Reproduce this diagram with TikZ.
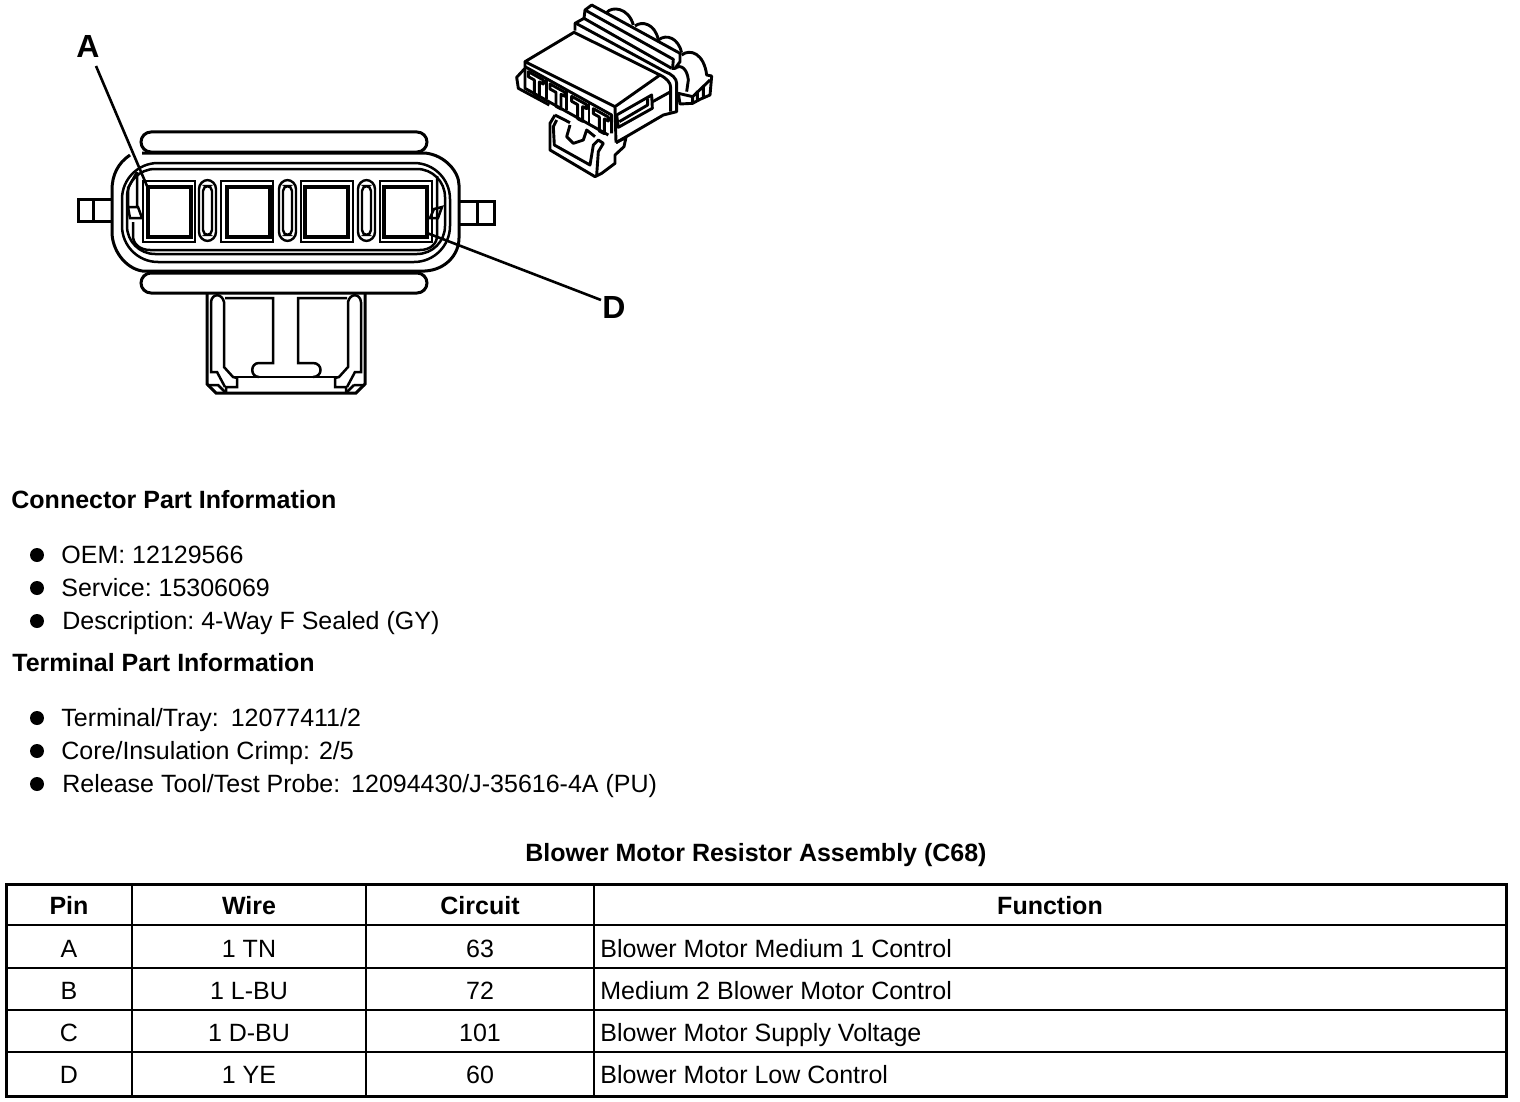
\documentclass[tikz,border=0pt]{standalone}
\usepackage{fontspec}
\setmainfont{Liberation Sans}
\tikzset{
 txt/.style={anchor=base west,inner sep=0pt,font=\fontsize{12.5}{15}\selectfont},
 head/.style={anchor=base west,inner sep=0pt,font=\fontsize{12.5}{15}\selectfont\bfseries},
 cell/.style={anchor=base,inner sep=0pt,font=\fontsize{12.5}{15}\selectfont},
 hcell/.style={anchor=base,inner sep=0pt,font=\fontsize{12.5}{15}\selectfont\bfseries},
 callout/.style={anchor=base,inner sep=0pt,font=\fontsize{16}{18}\selectfont\bfseries},
 bul/.style={circle,fill=black,inner sep=0pt,minimum size=7pt},
 part/.style={line width=1.5pt,line join=miter},
 thin part/.style={line width=1.25pt},
 iso/.style={line width=1.45pt,line join=round},
 leader/.style={line width=1.3pt},
 grid/.style={line width=.75pt},
 midrule/.style={line width=1.1pt},
 frame/.style={line width=1.5pt},
}
\begin{document}
\frenchspacing
\begin{tikzpicture}[x=0.5pt,y=-0.5pt]
\useasboundingbox (0,0) rectangle (1520,1102);
% end-view connector: body
\draw[part] (130,155) .. controls (118,163) and (112,175) .. (112,190) -- (112,232) .. controls (112,250) and (125,268) .. (142,271);
\draw[part] (142,153) -- (425,153) .. controls (445,155) and (459,172) .. (459,185) -- (459,238);
\draw[part] (459,238) .. controls (459,255) and (445,270) .. (425,271) -- (142,271);
\draw[part,rounded corners=5pt] (141,132) rectangle (427,152);
\draw[part,rounded corners=5pt] (141,273) rectangle (427,293);
\draw[thin part,rounded corners=18pt] (122,163) rectangle (450,262);
\draw[thin part,rounded corners=14pt] (127,169) rectangle (445,254);
\draw[thin part] (150,250) -- (420,250) (420,250) .. controls (430,250) and (437,244) .. (437,236) -- (437,176);
\draw[thin part] (150,250) .. controls (140,250) and (133,244) .. (133,236) -- (133,222);
% side pegs
\draw[part] (112,199) -- (78,199) -- (78,221) -- (112,221) (93,199) -- (93,221);
\draw[part] (459,201) -- (494,201) -- (494,224) -- (459,224) (477,201) -- (477,224);
% latching tabs inside the body
\draw[thin part] (137,172) -- (128,188) -- (128,207) (137,172) -- (137,207) (128,207) -- (138,207) -- (142,218) -- (130,218) -- cycle;
\draw[thin part] (434,209) -- (442,207) -- (438,218) -- (430,218) -- cycle;
% cavities
\foreach \ox/\ix in {143/148,221/227,301/305,380/384}{
 \draw[line width=1.2pt] (\ox,181) rectangle ++(52,61);
 \draw[line width=1.7pt] (\ix,187) rectangle ++(43,50);
}
\foreach \sx in {199,279,358}{
 \draw[line width=1.2pt,rounded corners=4.5pt] (\sx,180) rectangle ++(17,61);
 \draw[line width=1.2pt,rounded corners=2.5pt] (\sx+4,186) rectangle ++(9,49);
}
% lower latch
\draw[part] (207,293) -- (207,384) -- (216,393) -- (356,393) -- (365,384) -- (365,293);
\draw[thin part] (225,298) -- (273,298) -- (273,363) -- (259,363) .. controls (250,363) and (250,377) .. (259,377);
\draw[thin part] (347,298) -- (298,298) -- (298,363) -- (313,363) .. controls (323,363) and (323,377) .. (313,377);
\draw[thin part] (233,377) -- (339,377);
\draw[thin part] (211,302) .. controls (212,293) and (222,293) .. (224,302) -- (224,367) -- (233,377) -- (237,378) -- (237,387) -- (226,387) -- (226,393);
\draw[thin part] (211,302) -- (211,372) -- (217,372) -- (225,387);
\draw[thin part] (361,302) .. controls (360,293) and (350,293) .. (348,302) -- (348,367) -- (339,377) -- (335,378) -- (335,387) -- (346,387) -- (346,393);
\draw[thin part] (361,302) -- (361,372) -- (355,372) -- (347,387);
\draw[thin part] (207,385) -- (218,385) -- (226,393) (354,385) -- (365,385) (354,385) -- (346,393);
% leaders and labels
\node[callout] (A) at (88,58) {A};
\node[callout] (D) at (614,318) {D};
\coordinate (pinA) at (147,186);
\coordinate (pinD) at (427,233);
\coordinate (Aend) at (96,66);
\coordinate (Dend) at (601,300);
\draw[leader] (Aend) -- (pinA);
\draw[leader] (Dend) -- (pinD);
% isometric connector
\begin{scope}[shift={(500,0)},x=0.16667pt,y=-0.16667pt]
% bumps behind
\draw[iso] (320,38) .. controls (335,18) and (385,22) .. (400,75);
\draw[iso] (405,78) .. controls (425,62) and (465,70) .. (475,120);
\draw[iso] (475,120) .. controls (500,100) and (535,115) .. (545,158);
\draw[iso] (545,165) .. controls (570,145) and (612,160) .. (620,225) -- (635,228) -- (630,285) -- (600,298) -- (578,310) -- (540,312) -- (535,280) -- (578,290) -- (578,310);
\draw[iso] (578,290) -- (630,240) (592,272) -- (592,300) (610,262) -- (610,295);
\draw[iso] (525,205) .. controls (545,190) and (562,210) .. (565,240) -- (560,275);
% ridge
\draw[iso] (252,55) -- (255,30) -- (275,15) -- (540,160) -- (540,185) -- (525,205) -- (515,205);
\draw[iso] (255,30) -- (520,178) -- (518,203);
\draw[iso] (252,55) -- (515,205);
\draw[iso] (225,92) -- (225,70) -- (252,55);
\draw[iso] (228,70) -- (495,215) .. controls (515,222) and (530,235) .. (530,250) -- (530,335) -- (490,345) -- (348,428);
% top face
\draw[iso] (75,185) -- (222,97) -- (480,225) -- (345,320) -- cycle;
\draw[iso] (480,225) .. controls (500,235) and (512,248) .. (512,262) -- (512,335);
\draw[iso] (512,275) -- (458,305);
\draw[iso] (345,320) -- (348,428);
% window
\draw[iso] (350,345) -- (455,285) -- (457,325) -- (355,382) -- cycle;
\draw[iso] (358,365) -- (443,315) -- (443,295);
% front face
\draw[iso] (75,185) -- (75,205) -- (50,232) -- (55,265) -- (148,315);
\draw[iso] (75,200) -- (335,345) -- (335,400);
\draw[iso] (75,205) -- (75,265) -- (325,405);
\foreach \fx/\fy in {140/236,200/269,267/306}{
 \draw[iso] (\fx,\fy) -- (\fx,\fy+62);
}
% terminals
\foreach \dx/\dy in {0/0,65/37,130/74,195/111}{
 \begin{scope}[shift={(\dx*0.16667pt,-\dy*0.16667pt)}]
 \draw[iso] (85,215) -- (130,240) -- (130,252) -- (118,246) -- (118,290) -- (103,282) -- (103,240) -- (85,230) -- cycle;
 \end{scope}
}
% lower latch
\draw[iso] (165,345) -- (150,370) -- (150,450) -- (285,530) -- (305,520) -- (345,490) -- (345,465) -- (372,440) -- (378,412) -- (348,428);
\draw[iso] (170,360) -- (160,380) -- (163,435) -- (270,495) -- (280,435) -- (295,420) -- (310,430) -- (295,455) -- (290,525);
\draw[iso] (210,375) -- (200,410) -- (220,430) -- (250,420) -- (260,390) -- (285,410);
\draw[iso] (165,345) -- (210,368);
\end{scope}
% text blocks
\node[head] (h1) at (11,508) {Connector Part Information};
\node[head] (h2) at (12,671) {Terminal Part Information};
\node[bul] (b1) at (37,555) {};
\node[bul] (b2) at (37,588) {};
\node[bul] (b3) at (37,621) {};
\node[bul] (b4) at (37,718) {};
\node[bul] (b5) at (37,751) {};
\node[bul] (b6) at (37,784) {};
\node[txt] (t1) at (61,563) {OEM: 12129566};
\node[txt] (t2) at (61,596) {Service: 15306069};
\node[txt] (t3) at (62,629) {Description: 4-Way F Sealed (GY)};
\node[txt] (t4) at (61,726) {Terminal/Tray:\hspace{2.5pt} 12077411/2};
\node[txt] (t5) at (61,759) {Core/Insulation Crimp:\hspace{1pt} 2/5};
\node[txt] (t6) at (62,792) {Release Tool/Test Probe:\hspace{2pt} 12094430/J-35616-4A (PU)};
\node[head,anchor=base] (title) at (756,861) {Blower Motor Resistor Assembly (C68)};
% table
\draw[frame] (6,884) rectangle (1506,1096);
\draw[midrule] (6,925) -- (1506,925);
\draw[grid] (6,968) -- (1506,968) (6,1010) -- (1506,1010);
\draw[midrule] (6,1052) -- (1506,1052);
\draw[grid] (132,884) -- (132,1096) (366,884) -- (366,1096) (594,884) -- (594,1096);
\node[hcell] (c1) at (69,914) {Pin};
\node[hcell] (c2) at (249,914) {Wire};
\node[hcell] (c3) at (480,914) {Circuit};
\node[hcell] (c4) at (1050,914) {Function};
\foreach \n/\y/\p/\w/\c/\f in {1/957/A/1 TN/63/Blower Motor Medium 1 Control,2/999/B/1 L-BU/72/Medium 2 Blower Motor Control,3/1041/C/1 D-BU/101/Blower Motor Supply Voltage,4/1083/D/1 YE/60/Blower Motor Low Control}{
 \node[cell] (p\n) at (69,\y) {\p};
 \node[cell] (w\n) at (249,\y) {\w};
 \node[cell] (k\n) at (480,\y) {\c};
 \node[txt] (f\n) at (600,\y) {\f};
}
\end{tikzpicture}
\end{document}
